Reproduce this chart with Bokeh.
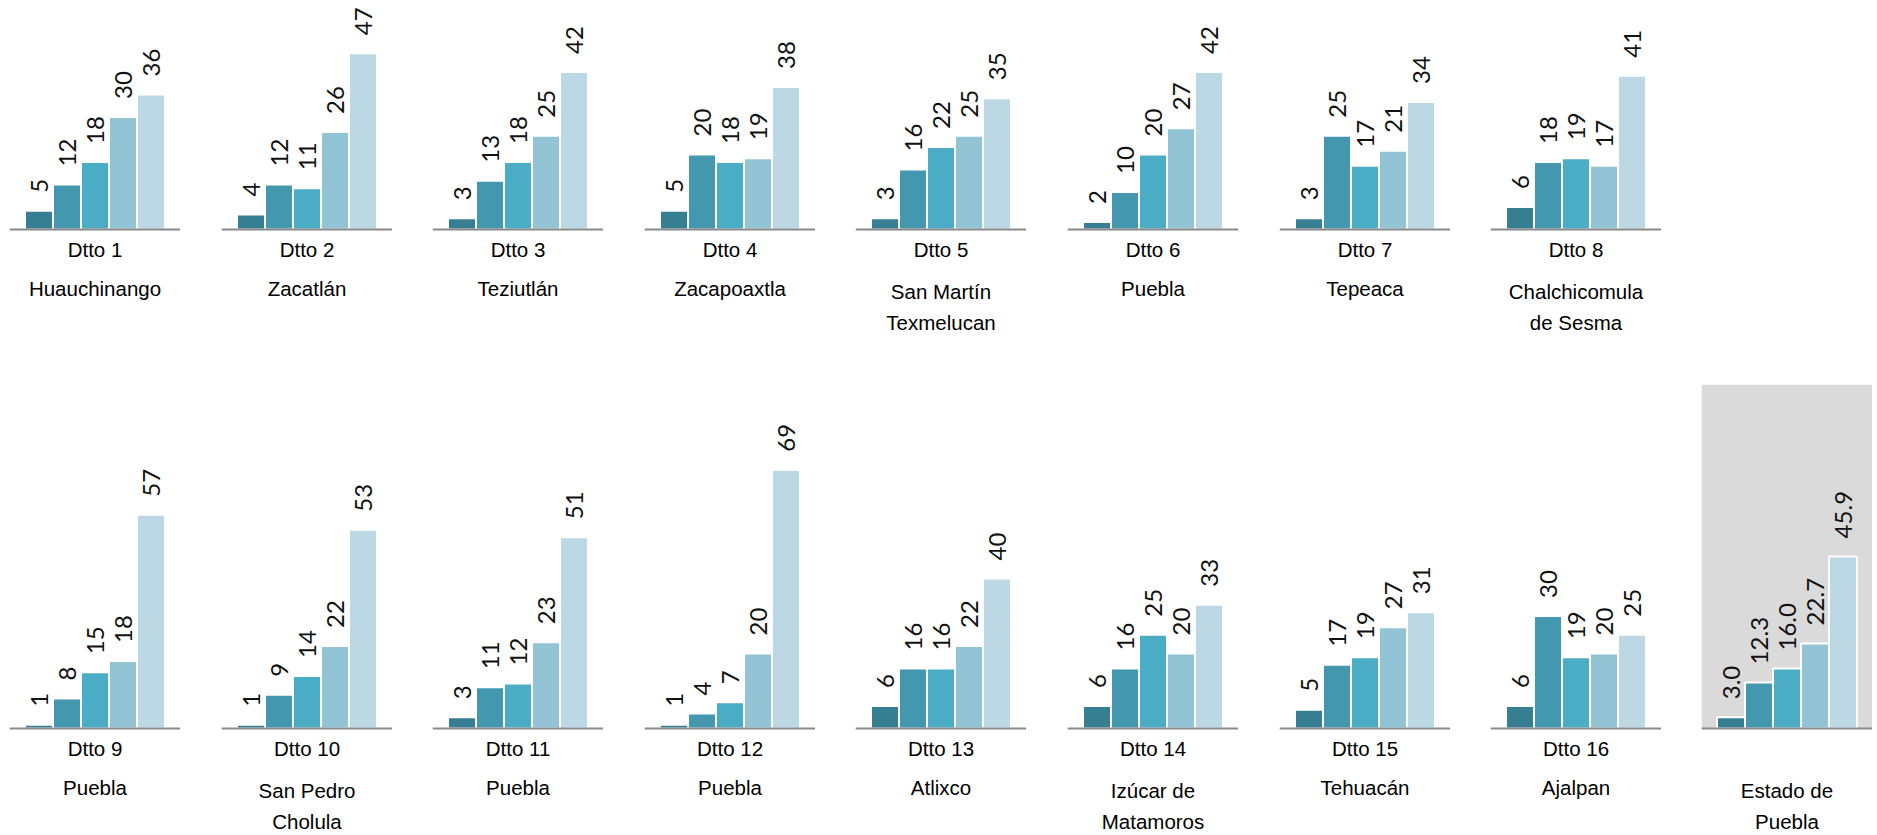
import math
from bokeh.plotting import figure
from bokeh.layouts import column, row
from bokeh.models import Range1d, Span, BoxAnnotation, ColumnDataSource
from bokeh.core.properties import value
from bokeh.embed import file_html
from bokeh.resources import INLINE

# ---------------- data ----------------
districts = ["Dtto 1", "Dtto 2", "Dtto 3", "Dtto 4", "Dtto 5", "Dtto 6", "Dtto 7", "Dtto 8",
             "Dtto 9", "Dtto 10", "Dtto 11", "Dtto 12", "Dtto 13", "Dtto 14", "Dtto 15", "Dtto 16"]
places = [["Huauchinango"], ["Zacatlán"], ["Teziutlán"], ["Zacapoaxtla"],
          ["San Martín", "Texmelucan"], ["Puebla"], ["Tepeaca"], ["Chalchicomula", "de Sesma"],
          ["Puebla"], ["San Pedro", "Cholula"], ["Puebla"], ["Puebla"],
          ["Atlixco"], ["Izúcar de", "Matamoros"], ["Tehuacán"], ["Ajalpan"]]
serie1 = [5, 4, 3, 5, 3, 2, 3, 6, 1, 1, 3, 1, 6, 6, 5, 6]
serie2 = [12, 12, 13, 20, 16, 10, 25, 18, 8, 9, 11, 4, 16, 16, 17, 30]
serie3 = [18, 11, 18, 18, 22, 20, 17, 19, 15, 14, 12, 7, 16, 25, 19, 19]
serie4 = [30, 26, 25, 19, 25, 27, 21, 17, 18, 22, 23, 20, 22, 20, 27, 20]
serie5 = [36, 47, 42, 38, 35, 42, 34, 41, 57, 53, 51, 69, 40, 33, 31, 25]
state_label = ["Estado de", "Puebla"]
state_values = [3.0, 12.3, 16.0, 22.7, 45.9]

colors = ["#367f93", "#4398af", "#4bacc6", "#93c4d6", "#bcd8e4"]

# ---------------- layout constants ----------------
SCALE = 3.75          # px per unit
PANEL_W = 171
BAR_PX = 28.0
HALF = PANEL_W / BAR_PX / 2.0
ROW1_H, ROW1_BASE = 384, 229
ROW2_H, ROW2_BASE = 450, 344
GAPS1 = [9, 41, 40, 41, 40, 41, 41, 40]
GAPS2 = [9, 41, 40, 41, 40, 41, 41, 40, 40]
LABEL_FONT = value("Liberation Sans")
VALUE_FONT = value("Lato")


def panel(vals, dtto, name_lines, height, base_px, left_gap, grey=False, decimals=False):
    p = figure(width=PANEL_W, height=height, output_backend="svg", toolbar_location=None,
               x_range=Range1d(3 - HALF, 3 + HALF),
               y_range=Range1d(-(height - base_px) / SCALE, base_px / SCALE),
               x_axis_type=None, y_axis_type=None, min_border=0,
               outline_line_color=None, background_fill_color="white",
               border_fill_color="white", margin=(0, 0, 0, left_gap))
    p.min_border_left = p.min_border_right = p.min_border_top = p.min_border_bottom = 0
    p.xgrid.visible = False
    p.ygrid.visible = False
    if grey:
        p.add_layout(BoxAnnotation(bottom=0, fill_color="#dadada", fill_alpha=1.0,
                                   line_color=None, level="underlay"))
    xs = [1, 2, 3, 4, 5]
    src = ColumnDataSource(dict(
        x=xs, top=vals, color=colors,
        ly=[v + 18 / SCALE for v in vals],
        txt=[("%.1f" % v) if decimals else ("%d" % round(v)) for v in vals]))
    p.vbar(x="x", top="top", bottom=0, width=1.0, fill_color="color",
           line_color="white", line_width=2, source=src)
    p.text(x="x", y="ly", text="txt", angle=math.pi / 2, text_align="left",
           text_baseline="middle", text_font=VALUE_FONT, text_font_size="24px",
           text_color="#111111", source=src)
    p.add_layout(Span(location=0, dimension="width", line_color="#898989", line_width=2))

    lab_x, lab_y, lab_t = [], [], []
    if dtto:
        lab_x.append(3); lab_y.append(-20 / SCALE); lab_t.append(dtto)
    if len(name_lines) == 1:
        lab_x.append(3); lab_y.append(-58.5 / SCALE); lab_t.append(name_lines[0])
    else:
        lab_x += [3, 3]
        lab_y += [-62 / SCALE, -93 / SCALE]
        lab_t += name_lines
    p.text(x=lab_x, y=lab_y, text=lab_t, text_align="center", text_baseline="middle",
           text_font=LABEL_FONT, text_font_size="20.5px", text_color="#000000")
    return p


series = [serie1, serie2, serie3, serie4, serie5]
figs1, figs2 = [], []
for i in range(16):
    vals = [s[i] for s in series]
    if i < 8:
        figs1.append(panel(vals, districts[i], places[i], ROW1_H, ROW1_BASE, GAPS1[i]))
    else:
        figs2.append(panel(vals, districts[i], places[i], ROW2_H, ROW2_BASE, GAPS2[i - 8]))
figs2.append(panel(state_values, None, state_label, ROW2_H, ROW2_BASE, GAPS2[8],
                   grey=True, decimals=True))

layout = column(row(figs1, spacing=0), row(figs2, spacing=0), spacing=0)

open("out.html", "w").write(file_html(layout, INLINE, title="Distritos Puebla"))
